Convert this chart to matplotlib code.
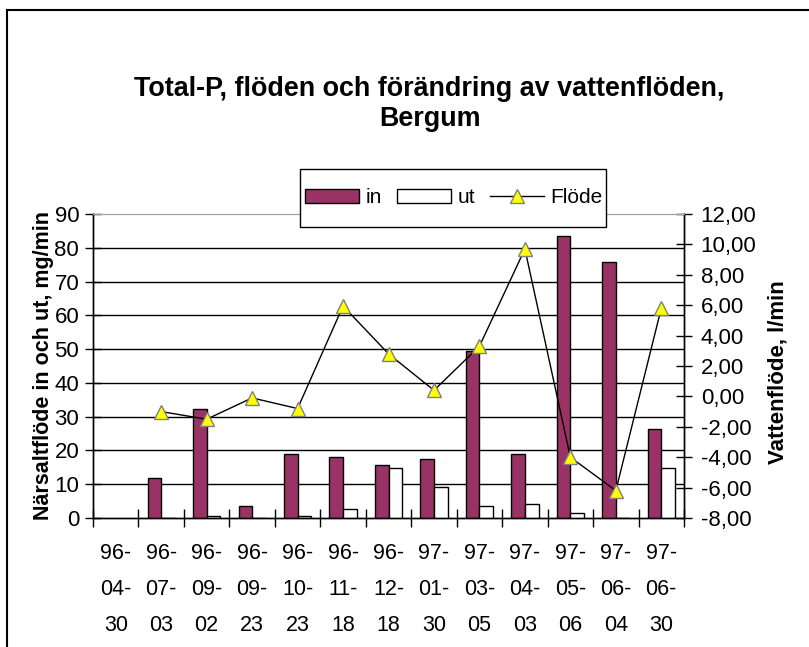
import numpy as np
import matplotlib
matplotlib.use("Agg")
import matplotlib.pyplot as plt
from matplotlib.lines import Line2D
from matplotlib.patches import Patch, Rectangle
from matplotlib.ticker import FuncFormatter, FixedLocator

plt.rcParams['font.family'] = ['Liberation Sans', 'DejaVu Sans']

# data
dates = ["96-\n04-\n30", "96-\n07-\n03", "96-\n09-\n02", "96-\n09-\n23", "96-\n10-\n23",
         "96-\n11-\n18", "96-\n12-\n18", "97-\n01-\n30", "97-\n03-\n05", "97-\n04-\n03",
         "97-\n05-\n06", "97-\n06-\n04", "97-\n06-\n30"]
p_in = [np.nan, 11.8, 32.3, 3.5, 18.8, 18.2, 15.8, 17.6, 49.3, 18.8, 83.5, 75.8, 26.3]
p_ut = [np.nan, 0.0, 0.5, 0.0, 0.5, 2.8, 14.7, 9.3, 3.5, 4.1, 1.6, 0.0, 14.7]
flode = [np.nan, -1.0, -1.5, -0.1, -0.8, 5.95, 2.8, 0.4, 3.3, 9.7, -4.0, -6.2, 5.8]

plum = "#993366"
fs = 16

fig = plt.figure(figsize=(8.09, 6.47), dpi=100)
ax = fig.add_axes([0.115, 0.1994, 0.7305, 0.4698])
ax2 = ax.twinx()

x = np.arange(len(dates))
w = 0.3
ax.bar(x - w/2, p_in, w, color=plum, edgecolor="black", linewidth=1, zorder=3)
ax.bar(x + w/2, p_ut, w, color="white", edgecolor="black", linewidth=1, zorder=3)
ax2.plot(x, flode, color="black", linewidth=1, marker="^", markersize=10,
         markerfacecolor="#ffff00", markeredgecolor="#808080", markeredgewidth=1)

ax.set_xlim(-0.5, len(dates) - 0.5)
ax.set_ylim(0, 90)
ax.set_yticks(range(0, 91, 10))
ax2.set_ylim(-8, 12)
ax2.set_yticks(range(-8, 13, 2))
ax2.yaxis.set_major_formatter(FuncFormatter(lambda v, p: f"{v:.2f}".replace(".", ",")))

for y in range(10, 90, 10):
    ax.axhline(y, color="black", linewidth=1, zorder=1)

ax.set_xticks(x)
ax.set_xticklabels(dates, fontsize=15.5, linespacing=1.95)
ax.xaxis.set_minor_locator(FixedLocator(np.arange(-0.5, len(dates), 1.0)))
ax.tick_params(axis="x", which="major", length=0, pad=18)
ax.tick_params(axis="x", which="minor", length=13, direction="inout", width=1)
ax.tick_params(axis="y", length=12, direction="inout", width=1, labelsize=fs, pad=4)
ax2.tick_params(axis="y", length=12, direction="inout", width=1, labelsize=fs, pad=6)

for a in (ax, ax2):
    a.spines["top"].set_color("#a0a0a0")
    for s in ("left", "right", "bottom"):
        a.spines[s].set_linewidth(1)

fig.text(0.531, 1 - 104/647, "Total-P, flöden och förändring av vattenflöden,\nBergum",
         ha="center", va="center", fontsize=19.4, fontweight="bold", linespacing=1.15)

fig.text(44/809, 1 - 366/647, "Närsaltflöde in och ut, mg/min", rotation=90,
         ha="center", va="center", fontsize=15.5, fontweight="bold")
fig.text(778/809, 1 - 372/647, "Vattenflöde, l/min", rotation=90,
         ha="center", va="center", fontsize=16, fontweight="bold")

# legend box drawn by hand (wide vertical padding, narrow sides)
fig.add_artist(Rectangle((300/809, 1 - 227/647), 306/809, 58/647, transform=fig.transFigure,
                         facecolor="white", edgecolor="black", linewidth=1, zorder=4))
handles = [Patch(facecolor=plum, edgecolor="black", linewidth=1),
           Patch(facecolor="white", edgecolor="black", linewidth=1),
           Line2D([0], [0], color="black", linewidth=1, marker="^", markersize=10,
                  markerfacecolor="#ffff00", markeredgecolor="#808080")]
leg = fig.legend(handles, ["in", "ut", "Flöde"], ncol=3, loc="center",
                 bbox_to_anchor=(454/809, 1 - 198/647), fontsize=15,
                 frameon=False, handlelength=2.6, handleheight=0.7, handletextpad=0.3,
                 columnspacing=0.72, borderpad=0.2, borderaxespad=0)
leg.set_zorder(5)

# outer chart frame (only top and left edges are inside the picture)
fig.add_artist(Line2D([7/809, 7/809], [0, 1 - 10/647], color="black", linewidth=1.5,
                      transform=fig.transFigure))
fig.add_artist(Line2D([7/809, 1], [1 - 10/647, 1 - 10/647], color="black", linewidth=1.5,
                      transform=fig.transFigure))

fig.savefig("out.png", dpi=100)
